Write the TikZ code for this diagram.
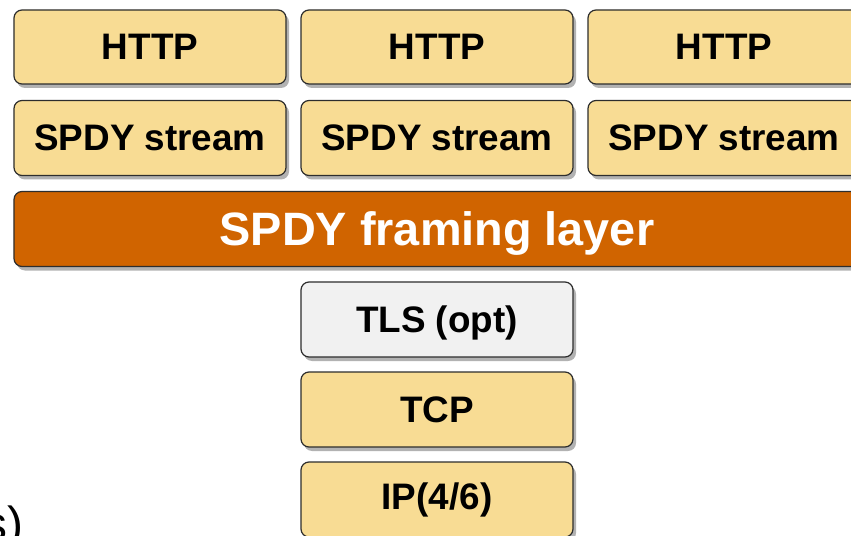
\documentclass[tikz,border=0pt]{standalone}
\usepackage{fontspec}
\setmainfont{Liberation Sans}
\usetikzlibrary{shadows}
\definecolor{boxyellow}{RGB}{248,220,148}
\definecolor{boxorange}{RGB}{208,100,0}
\definecolor{boxgray}{RGB}{241,241,241}
\definecolor{edgegray}{RGB}{45,45,45}
\tikzset{
  layerbox/.style={draw=edgegray, line width=1.2bp, rounded corners=8bp,
    fill=boxyellow, minimum width=272bp, minimum height=74bp, inner sep=0pt,
    font=\fontsize{37}{44}\selectfont\bfseries, text=black,
    drop shadow={shadow xshift=3bp, shadow yshift=-4bp, opacity=0.3, fill=black}},
  tlsbox/.style={layerbox, fill=boxgray, text depth=0pt},
  framebox/.style={layerbox, fill=boxorange, minimum width=846bp, text=white,
    text depth=0pt, font=\fontsize{47}{56}\selectfont\bfseries}
}
\begin{document}
\begin{tikzpicture}[x=1bp, y=-1bp]
\useasboundingbox (0,0) rectangle (851,536);
\fill[white] (0,0) rectangle (851,536);
\node[layerbox] (http1) at (150,47) {HTTP};
\node[layerbox] (http2) at (437,47) {HTTP};
\node[layerbox] (http3) at (724,47) {HTTP};
\node[layerbox, minimum height=75bp] (spdy1) at (150,138) {SPDY stream};
\node[layerbox, minimum height=75bp] (spdy2) at (437,138) {SPDY stream};
\node[layerbox, minimum height=75bp] (spdy3) at (724,138) {SPDY stream};
\node[framebox, minimum height=75bp] (frame) at (437,229) {SPDY framing layer};
\node[tlsbox, minimum height=75bp] (tls) at (437,319.5) {TLS (opt)};
\node[layerbox, minimum height=75bp] (tcp) at (437,409.5) {TCP};
\node[layerbox, minimum height=75bp] (ip) at (437,499.5) {IP(4/6)};
\node[anchor=base east, inner sep=0pt, font=\fontsize{48}{56}\selectfont] (frag) at (24,540) {s)};
\end{tikzpicture}
\end{document}
